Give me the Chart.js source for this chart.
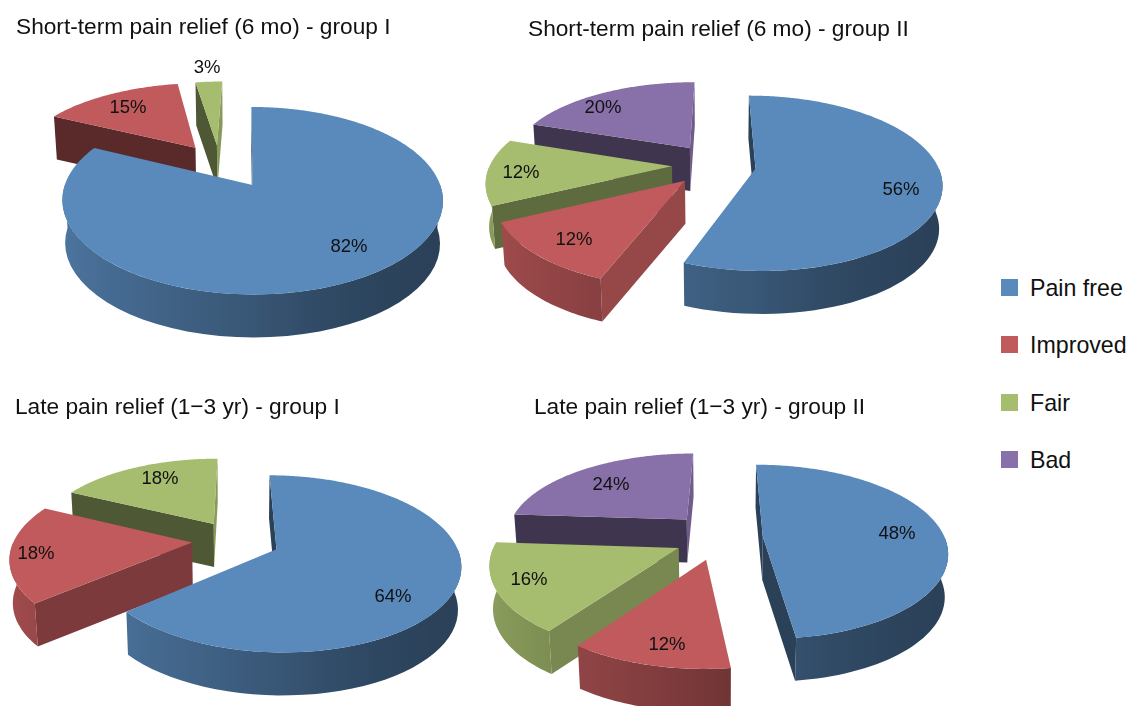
<!DOCTYPE html>
<html>
<head>
<meta charset="utf-8">
<title>Pain relief</title>
<script src="https://cdn.jsdelivr.net/npm/chart.js@4"></script>
<style>
  html, body { margin: 0; padding: 0; background: #fff; }
  #page { position: relative; width: 1133px; height: 706px; overflow: hidden; font-family: "Liberation Sans", Arial, sans-serif; color: #111; }
  #page canvas { position: absolute; }
  .title { position: absolute; font-size: 22.7px; white-space: nowrap; line-height: 26px; }
  .swatch { position: absolute; width: 17px; height: 17px; left: 1001px; }
  .entry { position: absolute; left: 1030px; font-size: 23.2px; line-height: 26px; white-space: nowrap; }
</style>
</head>
<body>
<div id="page"></div>
<script>
// data
const categories = ["Pain free", "Improved", "Fair", "Bad"];
const sliceColors = ["#5a8abc", "#c05a5c", "#a6bc6e", "#8870a8"];

const shortGroup1 = [82, 15, 3];
const shortGroup2 = [56, 12, 12, 20];
const lateGroup1 = [64, 18, 18];
const lateGroup2 = [48, 12, 16, 24];

const titles = [
  "Short-term pain relief (6 mo) - group I",
  "Short-term pain relief (6 mo) - group II",
  "Late pain relief (1\u22123 yr) - group I",
  "Late pain relief (1\u22123 yr) - group II",
];

// view of the tilted disc
const MARGIN = 70;
const PERSPECTIVE = 0.17;
const DEPTH = 43;

function shade(hex, light) {
  const n = parseInt(hex.slice(1), 16);
  const r = Math.round(((n >> 16) & 255) * light);
  const g = Math.round(((n >> 8) & 255) * light);
  const b = Math.round((n & 255) * light);
  return `rgb(${r},${g},${b})`;
}

function wallLight(nx) {
  return nx < 0 ? 0.62 - 0.23 * nx : 0.47 + 0.15 * (1 - nx) * (1 - nx);
}

function faceLight(nx) {
  return nx <= 0 ? 0.47 : 0.47 + 0.35 * Math.pow(nx, 1.5);
}

// ===============================
// Draws the library's arcs as exploded 3D slices
// ===============================
function pie3dPlugin(view) {
  return {
    id: "pie3d",
    beforeDatasetsDraw(chart) {
      const ctx = chart.ctx;
      const meta = chart.getDatasetMeta(0);
      const values = chart.data.datasets[0].data;

      const slices = meta.data.map((arc, i) => {
        const { x, y, startAngle, endAngle, outerRadius } = arc.getProps(
          ["x", "y", "startAngle", "endAngle", "outerRadius"],
          true
        );
        const project = (u, w) => {
          const vn = w / outerRadius;
          const s = 1 + PERSPECTIVE * vn;
          return { x: x + u * s, y: y + view.tilt * outerRadius * vn * s };
        };
        const mid = (startAngle + endAngle) / 2;
        const [radial, side] = view.explode[i];
        const ax = Math.cos(mid) * radial - Math.sin(mid) * side;
        const ay = Math.sin(mid) * radial + Math.cos(mid) * side;
        const at = (angle) =>
          project(ax + outerRadius * Math.cos(angle), ay + outerRadius * Math.sin(angle));
        const down = (p) => ({ x: x + (p.x - x) * 0.985, y: p.y + DEPTH });
        return {
          startAngle, endAngle, at, down,
          apex: project(ax, ay),
          color: arc.options.backgroundColor,
        };
      });

      slices.sort((a, b) => a.apex.y - b.apex.y);

      slices.forEach((s) => {
        // cut faces
        [
          [s.startAngle, s.startAngle - Math.PI / 2],
          [s.endAngle, s.endAngle + Math.PI / 2],
        ].forEach(([edge, normal]) => {
          if (Math.sin(normal) < -0.05) return;
          const p = s.at(edge);
          const q = s.down(p);
          const r = s.down(s.apex);
          ctx.fillStyle = shade(s.color, faceLight(Math.cos(normal)));
          ctx.beginPath();
          ctx.moveTo(s.apex.x, s.apex.y);
          ctx.lineTo(p.x, p.y);
          ctx.lineTo(q.x, q.y);
          ctx.lineTo(r.x, r.y);
          ctx.closePath();
          ctx.fill();
        });

        // outer wall, front half only, shaded left to right
        const lo = Math.max(s.startAngle, 0);
        const hi = Math.min(s.endAngle, Math.PI);
        if (hi > lo) {
          const samples = [];
          for (let i = 0; i <= 40; i++) {
            const a = lo + ((hi - lo) * i) / 40;
            samples.push({ a, p: s.at(a) });
          }
          const xs = samples.map((o) => o.p.x);
          const x0 = Math.min(...xs);
          const x1 = Math.max(...xs);
          const grad = ctx.createLinearGradient(x0, 0, x1, 0);
          samples.forEach((o) => {
            const t = x1 > x0 ? (o.p.x - x0) / (x1 - x0) : 0;
            grad.addColorStop(Math.min(1, Math.max(0, t)), shade(s.color, wallLight(Math.cos(o.a))));
          });
          ctx.fillStyle = grad;
          ctx.beginPath();
          samples.forEach((o, i) => {
            if (i === 0) ctx.moveTo(o.p.x, o.p.y);
            else ctx.lineTo(o.p.x, o.p.y);
          });
          samples.slice().reverse().forEach((o) => {
            const d = s.down(o.p);
            ctx.lineTo(d.x, d.y);
          });
          ctx.closePath();
          ctx.fill();
        }

        // top
        ctx.fillStyle = s.color;
        ctx.beginPath();
        ctx.moveTo(s.apex.x, s.apex.y);
        for (let a = s.startAngle; a < s.endAngle; a += 0.01) {
          const p = s.at(a);
          ctx.lineTo(p.x, p.y);
        }
        const last = s.at(s.endAngle);
        ctx.lineTo(last.x, last.y);
        ctx.closePath();
        ctx.fill();
      });

      // percent labels
      ctx.fillStyle = "#111";
      ctx.font = '18.5px "Liberation Sans", Arial, sans-serif';
      ctx.textAlign = "center";
      ctx.textBaseline = "middle";
      values.forEach((v, i) => {
        const [lx, ly] = view.labels[i];
        ctx.fillText(v + "%", lx - view.left, ly - view.top + 1);
      });
      return false;
    },
  };
}

function drawPie(values, view) {
  const half = view.radius + MARGIN;
  const canvas = document.createElement("canvas");
  canvas.width = half * 2;
  canvas.height = half * 2;
  view.left = view.cx - half;
  view.top = view.cy - half;
  canvas.style.left = view.left + "px";
  canvas.style.top = view.top + "px";
  canvas.style.width = half * 2 + "px";
  canvas.style.height = half * 2 + "px";
  document.getElementById("page").appendChild(canvas);

  new Chart(canvas, {
    type: "pie",
    data: {
      labels: categories.slice(0, values.length),
      datasets: [
        {
          data: values,
          backgroundColor: sliceColors.slice(0, values.length),
          borderWidth: 0,
        },
      ],
    },
    options: {
      responsive: false,
      animation: false,
      layout: { padding: MARGIN },
      plugins: { legend: { display: false }, tooltip: { enabled: false } },
    },
    plugins: [pie3dPlugin(view)],
  });
}

drawPie(shortGroup1, {
  cx: 246, cy: 180, radius: 186, tilt: 0.495,
  explode: [[12, 0], [88, 0], [78, -24]],
  labels: [[349, 246], [128, 107], [207, 67]],
});
drawPie(shortGroup2, {
  cx: 716, cy: 165, radius: 182, tilt: 0.475,
  explode: [[40, 0], [44, 0], [44, 0], [46, 0]],
  labels: [[901, 189], [574, 239], [521, 172], [603, 107]],
});
drawPie(lateGroup1, {
  cx: 235, cy: 540, radius: 178, tilt: 0.48,
  explode: [[45, 0], [43, 0], [41, 0]],
  labels: [[393, 596], [36, 553], [160, 478]],
});
drawPie(lateGroup2, {
  cx: 723, cy: 538, radius: 182, tilt: 0.48,
  explode: [[40, 0], [46, 5], [48, 0], [55, 0]],
  labels: [[897, 533], [667, 644], [529, 579], [611, 484]],
});

// ===============================
// Titles and shared legend
// ===============================
const page = document.getElementById("page");
[[16, 13], [528, 15], [15, 393], [534, 393]].forEach(([x, y], i) => {
  const el = document.createElement("div");
  el.className = "title";
  el.style.left = x + "px";
  el.style.top = y + "px";
  el.textContent = titles[i];
  page.appendChild(el);
});
[288, 345, 403, 460].forEach((y, i) => {
  const box = document.createElement("div");
  box.className = "swatch";
  box.style.top = y - 9 + "px";
  box.style.background = sliceColors[i];
  page.appendChild(box);
  const text = document.createElement("div");
  text.className = "entry";
  text.style.top = y - 13 + "px";
  text.textContent = categories[i];
  page.appendChild(text);
});
</script>
</body>
</html>
